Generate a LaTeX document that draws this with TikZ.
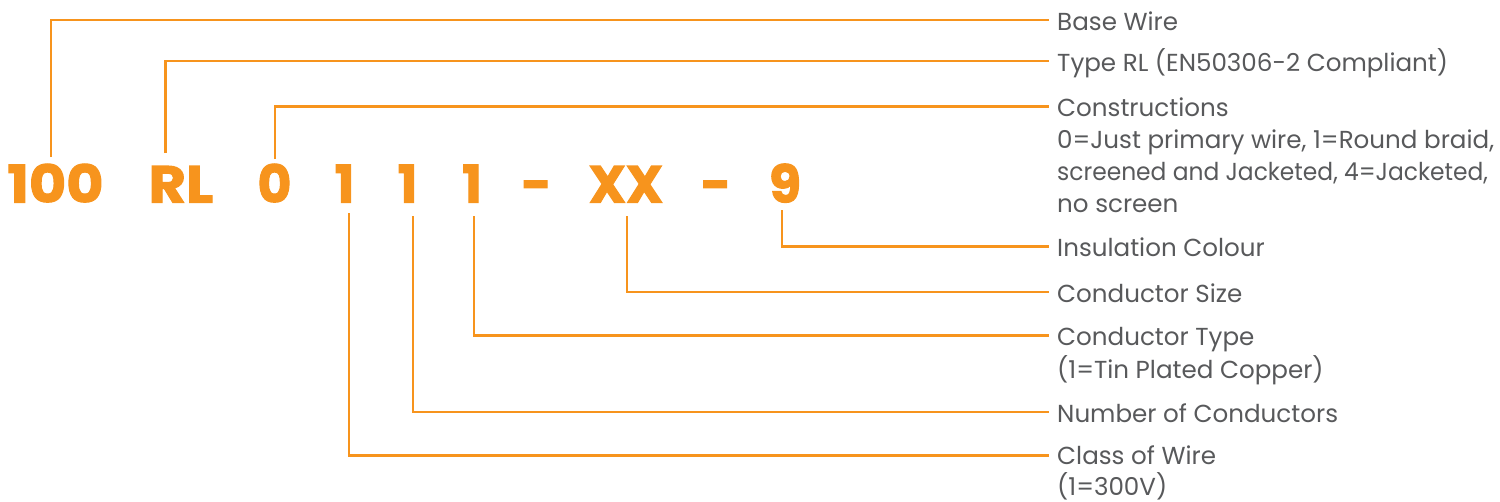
\documentclass[tikz,border=0pt]{standalone}
\usepackage{fontspec}
\setmainfont{Poppins}
\newfontfamily\codefont{Poppins}[BoldFeatures={FakeBold=2}]
\newfontfamily\widecodefont{Poppins}[BoldFeatures={FakeBold=2,FakeStretch=1.1}]
\newfontfamily\narrowlabfont{Poppins}[FakeStretch=0.95]
\definecolor{wireorange}{HTML}{F7941D}
\definecolor{labelgray}{HTML}{58595B}
\newcommand{\multilab}[1]{\begin{tabular}[t]{@{}l@{}}#1\end{tabular}}
\begin{document}
\begin{tikzpicture}[x=1pt,y=-1pt,
  code/.style={anchor=base,inner sep=0pt,text=wireorange,font=\codefont\fontsize{52}{52}\selectfont\bfseries},
  widecode/.style={code,font=\widecodefont\fontsize{52}{52}\selectfont\bfseries},
  lab/.style={anchor=base west,inner sep=0pt,text=labelgray,font=\fontsize{24.6}{32}\selectfont},
  conn/.style={draw=wireorange,line width=2.6pt,line join=miter}]
\useasboundingbox (0,0) rectangle (1500,501);
% code pieces
\node[widecode] (c100) at (55.5,202.5) {100};
\node[widecode] (cRL)  at (181,202.5) {RL};
\node[code] (c0)   at (274.5,202.5) {0};
\node[code] (c1a)  at (344.5,202.5) {1};
\node[code] (c1b)  at (407.5,202.5) {1};
\node[code] (c1c)  at (472,202.5) {1};
\node[code] (d1)   at (536.5,202.5) {-};
\node[code] (cXX)  at (626,202.5) {XX};
\node[code] (d2)   at (716,202.5) {-};
\node[code] (c9)   at (785,202.5) {9};
% connector start points
\coordinate (s100) at (51,157);
\coordinate (sRL)  at (165.7,153);
\coordinate (s0)   at (275,159);
\coordinate (s1a)  at (349,213);
\coordinate (s1b)  at (413,216);
\coordinate (s1c)  at (474,216);
\coordinate (sXX)  at (627,216);
\coordinate (s9)   at (782,210);
% labels
\node[lab] (lBase) at (1057,30) {Base Wire};
\node[lab] (lType) at (1057,71) {Type RL (EN50306-2 Compliant)};
\node[lab] (lCons) at (1057,116.7) {\multilab{Constructions\\0=Just primary wire, 1=Round braid,\\{\narrowlabfont screened and Jacketed, 4=Jacketed,}\\no screen}};
\node[lab] (lIns)  at (1057,256.7) {Insulation Colour};
\node[lab] (lSize) at (1057,302) {Conductor Size};
\node[lab] (lCTyp) at (1057,345.7) {\multilab{Conductor Type\\(1=Tin Plated Copper)}};
\node[lab] (lNum)  at (1057,422) {Number of Conductors};
\node[lab] (lClass) at (1057,464.5) {\multilab{Class of Wire\\[-2pt](1=300V)}};
% connectors
\draw[conn] (s100) |- ([shift={(-8,-10)}]lBase.base west);
\draw[conn] (sRL)  |- ([shift={(-8,-10)}]lType.base west);
\draw[conn] (s0)   |- ([shift={(-8,-10)}]lCons.base west);
\draw[conn] (s9)   |- ([shift={(-8,-10)}]lIns.base west);
\draw[conn] (sXX)  |- ([shift={(-8,-10)}]lSize.base west);
\draw[conn] (s1c)  |- ([shift={(-8,-10)}]lCTyp.base west);
\draw[conn] (s1b)  |- ([shift={(-8,-10)}]lNum.base west);
\draw[conn] (s1a)  |- ([shift={(-8,-9)}]lClass.base west);
\end{tikzpicture}
\end{document}
